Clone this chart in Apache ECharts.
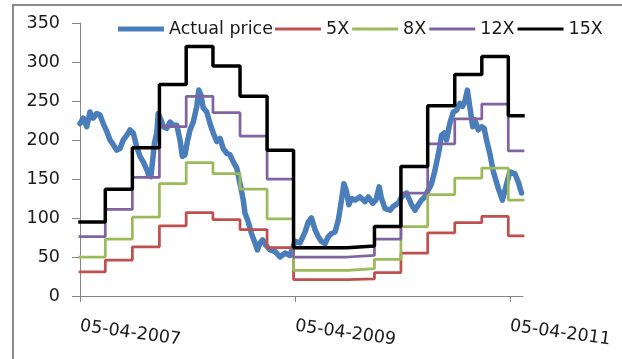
<!DOCTYPE html>
<html><head><meta charset="utf-8">
<script src="https://cdn.jsdelivr.net/npm/echarts@6/dist/echarts.min.js"></script>
<style>html,body{margin:0;padding:0;background:#fff}#c{width:622px;height:359px}</style>
</head><body><div id="c"></div>
<script>
// ---- data ----
const seriesNames = ['Actual price', '5X', '8X', '12X', '15X'];
const axisStart = '2007-04-05';
const axisEnd = '2011-05-20';
const tickDates = ['2007-04-05', '2009-04-05', '2011-04-05'];
const tickLabels = ['05-04-2007', '05-04-2009', '05-04-2011'];
const yTicks = [0, 50, 100, 150, 200, 250, 300, 350];

const priceDates = ['2007-04-05','2007-04-16','2007-04-28','2007-05-09','2007-05-20','2007-06-01','2007-06-12','2007-06-23','2007-07-05','2007-07-16','2007-07-27','2007-08-08','2007-08-19','2007-08-30','2007-09-11','2007-09-22','2007-10-03','2007-10-15','2007-10-26','2007-11-06','2007-11-18','2007-11-25','2007-12-02','2007-12-08','2007-12-14','2007-12-22','2007-12-27','2008-01-05','2008-01-13','2008-01-25','2008-02-05','2008-02-16','2008-02-28','2008-03-10','2008-03-18','2008-03-27','2008-04-04','2008-04-13','2008-04-24','2008-05-06','2008-05-13','2008-05-20','2008-05-28','2008-06-09','2008-06-20','2008-07-01','2008-07-13','2008-07-24','2008-08-04','2008-08-16','2008-08-27','2008-09-07','2008-09-19','2008-09-30','2008-10-11','2008-10-17','2008-10-28','2008-11-08','2008-11-20','2008-11-28','2008-12-07','2008-12-16','2008-12-27','2009-01-10','2009-01-27','2009-02-13','2009-03-02','2009-03-19','2009-04-05','2009-04-22','2009-05-09','2009-05-20','2009-05-31','2009-06-12','2009-06-23','2009-07-04','2009-07-16','2009-07-27','2009-08-07','2009-08-19','2009-08-30','2009-09-10','2009-09-18','2009-09-27','2009-10-05','2009-10-14','2009-10-26','2009-11-12','2009-11-29','2009-12-10','2009-12-25','2010-01-05','2010-01-16','2010-01-24','2010-02-05','2010-02-22','2010-03-05','2010-03-22','2010-04-02','2010-04-19','2010-05-06','2010-05-18','2010-05-29','2010-06-09','2010-06-20','2010-07-02','2010-07-13','2010-07-24','2010-08-08','2010-08-16','2010-08-25','2010-09-02','2010-09-13','2010-09-25','2010-10-06','2010-10-17','2010-10-26','2010-11-03','2010-11-12','2010-11-20','2010-11-30','2010-12-07','2010-12-19','2010-12-30','2011-01-08','2011-01-16','2011-01-27','2011-02-08','2011-02-25','2011-03-11','2011-03-23','2011-04-05','2011-04-22','2011-05-04','2011-05-15'];
const priceValues = [221,228,217,236,228,234,232,221,211,200,194,187,189,200,206,213,209,191,179,172,162,155,153,174,196,209,234,226,217,215,223,219,219,200,179,181,198,213,223,243,264,258,241,236,221,209,198,202,189,183,181,172,164,144,123,106,95,80,68,59,68,72,65,59,57,50,55,52,70,68,82,95,100,85,76,70,67,76,80,82,97,123,144,134,117,125,123,127,121,127,119,123,140,125,112,110,115,119,127,132,117,110,117,123,127,136,144,160,187,206,209,200,221,236,238,247,243,249,264,243,217,226,213,217,215,200,183,160,138,123,140,159,157,146,132];

const stepDates = ['2007-04-05','2007-06-30','2007-09-30','2007-12-31','2008-03-31','2008-06-30','2008-09-30','2008-12-31','2009-03-31','2009-09-30','2009-12-31','2010-03-31','2010-06-30','2010-09-30','2010-12-31','2011-03-31'];
const pe5  = [31,46,63,90,107,98,85,62,21,22,30,55,81,94,102,77];
const pe8  = [50,73,101,144,171,157,137,99,33,35,47,89,130,151,164,123];
const pe12 = [76,111,152,217,256,235,205,150,50,52,73,132,195,227,246,186];
const pe15 = [95,137,190,271,320,295,256,187,62,64,89,166,244,284,307,231];

// ---- chart ----
const toTs = s => { const p = s.split('-').map(Number); return new Date(p[0], p[1] - 1, p[2]).getTime(); };
const tickTs = tickDates.map(toTs);
const FONT = 'DejaVu Sans';
const TXT = '#1a1a1a';
const AX = '#868686';

function stepSeries(name, vals, color, width) {
  const data = stepDates.map((d, i) => [toTs(d), vals[i]]);
  data.push([toTs(axisEnd), vals[vals.length - 1]]);
  return {
    name, type: 'line', step: 'end', symbol: 'none', showSymbol: false,
    data, lineStyle: { color, width, cap: 'square' }, itemStyle: { color },
    emphasis: { disabled: true }
  };
}

const legendText = { fontFamily: FONT, fontSize: 17.5, color: TXT };

const chart = echarts.init(document.getElementById('c'), null, { renderer: 'canvas' });
chart.setOption({
  animation: false,
  backgroundColor: '#ffffff',
  graphic: [{
    type: 'rect', silent: true, z: -10,
    shape: { x: 13, y: 5, width: 900, height: 700 },
    style: { fill: null, stroke: '#8a8a8a', lineWidth: 2 }
  }],
  legend: [
    {
      data: [seriesNames[0]], icon: 'rect',
      left: 113, top: 15,
      itemWidth: 46, itemHeight: 5, itemGap: 3,
      textStyle: legendText
    },
    {
      data: seriesNames.slice(1), icon: 'rect',
      left: 270, top: 15,
      itemWidth: 46, itemHeight: 3, itemGap: 3,
      textStyle: legendText
    }
  ],
  grid: { left: 80, right: 99, top: 23, bottom: 63, containLabel: false, outerBoundsMode: 'none' },
  xAxis: {
    type: 'value',
    min: toTs(axisStart), max: toTs(axisEnd),
    axisLine: { show: true, lineStyle: { color: AX, width: 1 } },
    axisTick: { show: true, customValues: tickTs, length: 6, lineStyle: { color: AX } },
    axisLabel: {
      customValues: tickTs,
      formatter: v => { const i = tickTs.indexOf(v); return i >= 0 ? tickLabels[i] : ''; },
      rotate: -8, margin: 30,
      fontFamily: FONT, fontSize: 17.5, color: TXT,
      showMinLabel: true, showMaxLabel: true
    },
    splitLine: { show: false }
  },
  yAxis: {
    type: 'value', min: yTicks[0], max: yTicks[yTicks.length - 1], interval: 50,
    axisLine: { show: true, lineStyle: { color: AX, width: 1 } },
    axisTick: { show: true, length: 8, lineStyle: { color: AX } },
    axisLabel: { margin: 20, fontFamily: FONT, fontSize: 17.5, color: TXT },
    splitLine: { show: false }
  },
  series: [
    {
      name: seriesNames[0], type: 'line', symbol: 'none', showSymbol: false,
      data: priceDates.map((d, i) => [toTs(d), priceValues[i]]),
      lineStyle: { color: '#4A7EBB', width: 5.5, join: 'round', cap: 'round' },
      itemStyle: { color: '#4A7EBB' },
      emphasis: { disabled: true }
    },
    stepSeries(seriesNames[1], pe5, '#C0504D', 2.75),
    stepSeries(seriesNames[2], pe8, '#9BBB59', 2.75),
    stepSeries(seriesNames[3], pe12, '#8064A2', 2.75),
    stepSeries(seriesNames[4], pe15, '#000000', 3.5)
  ]
});
</script>
</body></html>
